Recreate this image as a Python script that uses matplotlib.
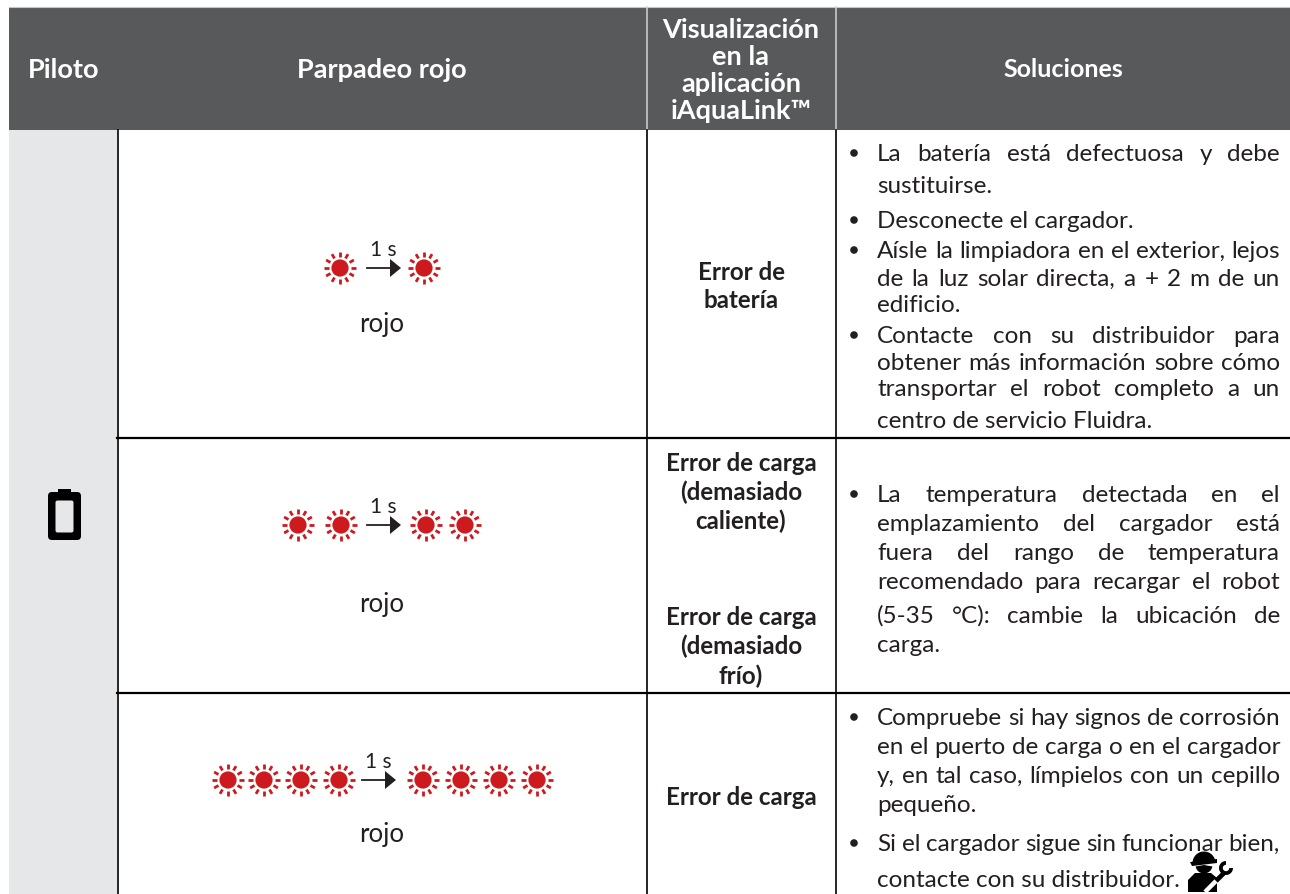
import numpy as np
import matplotlib
matplotlib.use("Agg")
import matplotlib.pyplot as plt
from matplotlib.patches import Rectangle, FancyBboxPatch, Circle, Polygon, Wedge

plt.rcParams["font.family"] = ["Lato", "DejaVu Sans"]

header_labels = [["Piloto"], ["Parpadeo rojo"], ["Visualización", "en la", "aplicación", "iAquaLink™"], ["Soluciones"]]
blink_counts = [1, 2, 4]
blink_label = "rojo"
interval_label = "1 s"
app_labels = [
    ["Error de", "batería"],
    ["Error de carga", "(demasiado", "caliente)", "Error de carga", "(demasiado", "frío)"],
    ["Error de carga"],
]
# (text, justified, bullet)
solutions = [
    [("La batería está defectuosa y debe", True, True),
     ("sustituirse.", False, False),
     ("Desconecte el cargador.", False, True),
     ("Aísle la limpiadora en el exterior, lejos", True, True),
     ("de la luz solar directa, a + 2 m de un", True, False),
     ("edificio.", False, False),
     ("Contacte con su distribuidor para", True, True),
     ("obtener más información sobre cómo", True, False),
     ("transportar el robot completo a un", True, False),
     ("centro de servicio Fluidra.", False, False)],
    [("La temperatura detectada en el", True, True),
     ("emplazamiento del cargador está", True, False),
     ("fuera del rango de temperatura", True, False),
     ("recomendado para recargar el robot", True, False),
     ("(5-35 °C): cambie la ubicación de", True, False),
     ("carga.", False, False)],
    [("Compruebe si hay signos de corrosión", True, True),
     ("en el puerto de carga o en el cargador", True, False),
     ("y, en tal caso, límpielos con un cepillo", True, False),
     ("pequeño.", False, False),
     ("Si el cargador sigue sin funcionar bien,", True, True),
     ("contacte con su distribuidor.", False, False)],
]

# layout in reference pixels, text y values are baselines
header_x = [64, 382, 741, 1063]
header_y = [[78], [78], [38, 65, 92, 119], [77]]
header_size = [19.5, 19.5, 19.5, 18]
solution_y = [
    [161, 193, 228, 258, 286, 312, 343, 370, 396, 428],
    [502, 531, 560, 589, 623, 652],
    [725, 754, 783, 812, 851, 887],
]
app_y = [[280, 308], [471, 500, 529, 625, 654, 684], [805]]
sun_x = [
    [340, 424],
    [298, 341, 426, 465],
    [228, 264, 301, 339, 423, 461, 499, 537],
]
sun_row_y = [268, 525, 780]
arrow_x = [(367, 401), (367, 401), (362, 396)]
rojo_y = [332, 612, 842]

DARK = "#58595b"
GREY = "#e6e7e8"
RED = "#cc1a1e"
INK = "#231f20"
FS = 17.5

fig = plt.figure(figsize=(12.9, 8.94), dpi=100)
ax = fig.add_axes([0, 0, 1, 1])
ax.set_xlim(0, 1290)
ax.set_ylim(894, 0)
ax.axis("off")

ax.add_patch(Rectangle((9, 7), 1281, 123, fc=DARK, ec="none"))
ax.add_patch(Rectangle((9, 130), 108, 764, fc=GREY, ec="none"))
ax.plot([9, 1290], [6.5, 6.5], color="#c4c5c7", lw=0.8)

for x in [646.5, 836]:
    ax.plot([x, x], [7, 130], color="#d1d3d4", lw=1.1)
for x in [117.5, 646.5, 836]:
    ax.plot([x, x], [130, 894], color="black", lw=1.2)
for y in [438, 693]:
    ax.plot([117, 1290], [y, y], color="black", lw=1.6)

for lines, x, ys, size in zip(header_labels, header_x, header_y, header_size):
    for line, y in zip(lines, ys):
        ax.text(x, y, line, color="white", fontsize=size, fontweight="bold", ha="center", va="baseline")


def draw_sun(x, y):
    ax.add_patch(Circle((x, y), 8.6, fc=RED, ec="none"))
    for a in np.arange(0, 360, 30):
        c, s = np.cos(np.radians(a)), np.sin(np.radians(a))
        ax.plot([x + 11 * c, x + 16 * c], [y + 11 * s, y + 16 * s], color=RED, lw=2, solid_capstyle="butt")


for xs, y, (x0, x1), ry in zip(sun_x, sun_row_y, arrow_x, rojo_y):
    for x in xs:
        draw_sun(x, y)
    ax.plot([x0, x1 - 10], [y, y], color=INK, lw=1.3)
    ax.add_patch(Polygon([(x1 - 11, y - 9), (x1, y), (x1 - 11, y + 9)], fc=INK, ec="none"))
    ax.text((x0 + x1) / 2 - 1, y - 12, interval_label, color=INK, fontsize=15, ha="center", va="baseline")
    ax.text(382, ry, blink_label, color=INK, fontsize=18.5, ha="center", va="baseline")

for labels, ys in zip(app_labels, app_y):
    for label, y in zip(labels, ys):
        ax.text(741, y, label, color=INK, fontsize=17.4, fontweight="bold", ha="center", va="baseline")

renderer = fig.canvas.get_renderer()
LEFT, RIGHT = 877, 1280


def justified_line(text, y):
    words = text.split(" ")
    items = [ax.text(0, y, w, color=INK, fontsize=FS, va="baseline") for w in words]
    widths = [t.get_window_extent(renderer).width for t in items]
    gap = (RIGHT - LEFT - sum(widths)) / (len(words) - 1)
    x = LEFT
    for t, w in zip(items, widths):
        t.set_x(x)
        x += w + gap


for rows, ys in zip(solutions, solution_y):
    for (text, just, bullet), y in zip(rows, ys):
        if bullet:
            ax.add_patch(Circle((854, y - 8), 3.8, fc=INK, ec="none"))
        if just:
            justified_line(text, y)
        else:
            ax.text(LEFT, y, text, color=INK, fontsize=FS, va="baseline")

# battery icon
ax.add_patch(FancyBboxPatch((51, 495), 27, 42, boxstyle="round,pad=3,rounding_size=4", fc="black", ec="none"))
ax.add_patch(Rectangle((58, 489), 13, 5, fc="black", ec="none"))
ax.add_patch(FancyBboxPatch((56.5, 501.5), 16, 30, boxstyle="round,pad=1,rounding_size=2", fc=GREY, ec="none"))

# technician with wrench icon
ax.add_patch(Wedge((1204, 863), 11.5, 180, 360, fc="black", ec="none"))
ax.add_patch(Polygon([(1190, 862), (1217, 859), (1217, 863), (1192, 866)], fc="black", ec="none"))
ax.add_patch(Wedge((1204, 865), 8.5, 10, 170, fc="black", ec="none"))
ax.add_patch(Polygon([(1188, 892), (1188, 880), (1195, 873), (1211, 873), (1217, 878), (1217, 892)],
                     fc="black", ec="none"))
ax.plot([1205, 1217], [892, 880], color="white", lw=3.2, solid_capstyle="butt")
ax.plot([1216, 1224], [881, 873], color="black", lw=3.4, solid_capstyle="butt")
ax.add_patch(Wedge((1226, 868), 7, 0, 270, width=3.8, fc="black", ec="none"))

fig.savefig("out.png", dpi=100)
